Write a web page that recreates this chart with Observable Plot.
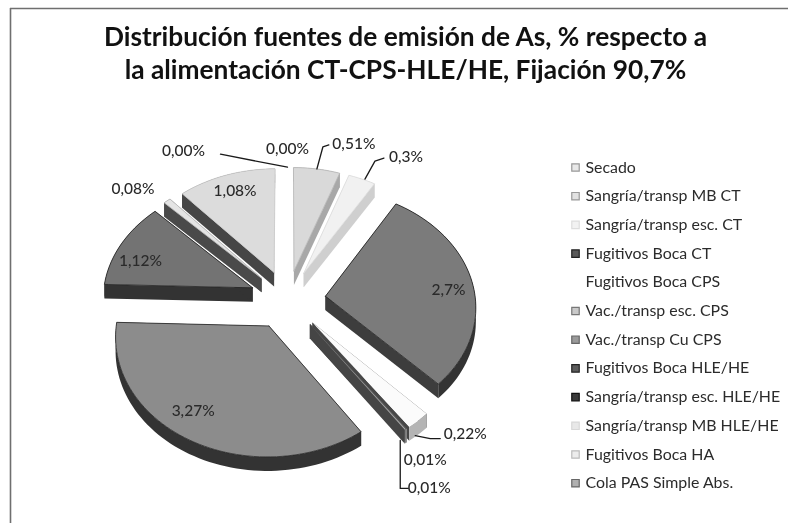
<!DOCTYPE html>
<html>
<head>
<meta charset="utf-8">
<script src="https://cdn.jsdelivr.net/npm/d3@7"></script>
<script src="https://cdn.jsdelivr.net/npm/@observablehq/plot@0.6"></script>
<style>
html,body{margin:0;padding:0;background:#fff}
svg{display:block;filter:blur(0.45px)}
</style>
</head>
<body>
<div id="chart"></div>
<script>
// ---- data (clockwise from 12 o'clock) ----
const categories = ["Secado","Sangría/transp MB CT","Sangría/transp esc. CT","Fugitivos Boca CT","Fugitivos Boca CPS","Vac./transp esc. CPS","Vac./transp Cu CPS","Fugitivos Boca HLE/HE","Sangría/transp esc. HLE/HE","Sangría/transp MB HLE/HE","Fugitivos Boca HA","Cola PAS Simple Abs."];
const values = [0.00,0.51,0.3,2.7,0.22,0.01,0.01,3.27,1.12,0.08,1.08,0.00];
const valueLabels = ["0,00%","0,51%","0,3%","2,7%","0,22%","0,01%","0,01%","3,27%","1,12%","0,08%","1,08%","0,00%"];
const titleLines = ["Distribución fuentes de emisión de As, % respecto a","la alimentación CT-CPS-HLE/HE, Fijación 90,7%"];

// ---- style ----
const topColors  = ["#e6e6e6","#d9d9d9","#f1f1f1","#7b7b7b","#fbfbfb","#5a5a5a","#a8a8a8","#8c8c8c","#737373","#e4e4e4","#dcdcdc","#b5b5b5"];
const cutColors  = ["#bbbbbb","#a8a8a8","#cfcfcf","#3d3d3d","#474747","#454545","#454545","#3a3a3a","#333333","#4a4a4a","#464646","#888888"];
const arcColors  = ["#bbbbbb","#a8a8a8","#cfcfcf","#333333","#b4b4b4","#999999","#999999","#333333","#333333","#4a4a4a","#464646","#888888"];
const edgeColors = ["none","#b5b5b5","#dddddd","#1e1e1e","none","none","none","#262626","#222222","#bbbbbb","#c8c8c8","none"];
const swatchFill = ["#e9e9e9","#e2e2e2","#f2f2f2","#5a5a5a","#ffffff","#c9c9c9","#9a9a9a","#5d5d5d","#3a3a3a","#e8e8e8","#ececec","#b0b0b0"];
const swatchEdge = ["#999999","#999999","#dddddd","#222222","none","#777777","#666666","#222222","#111111","#d8d8d8","#bbbbbb","#666666"];

// ---- label layout: offsets from each slice's outer-arc midpoint ----
const labelDX = [0,37,44,-24,47,19,24,4,19,-34,9,-104];
const labelDY = [-18,-25,-22,7,13,31,59,-29,17,-12,16,-16];
const leaders = {
  1:[[0,0],[6,-22],[12,-24]],
  2:[[3,0],[13,-18],[22,-21]],
  4:[[-3,15],[12,18],[22,18]],
  6:[[-5,11],[-5,59],[3,59]],
  11:[[0,0],[-67,-13]]
};

// ---- geometry derived from the values ----
const W = 788, H = 523, centerX = 287, centerY = 299;
const radiusX = 150, radiusY = 116, perspective = 0.08, explode = 0.255, depth = 14;
const total = d3.sum(values);
const toRad = Math.PI / 180;
let cum = 0;
const slices = values.map((v, i) => {
  const a0 = cum / total * 360; cum += v;
  const a1 = cum / total * 360;
  return {i, a0, a1, mid: (a0 + a1) / 2};
});
// a point of a slice: polar in the pie plane, exploded, then projected
function project(s, angle, r) {
  const wx = explode * Math.sin(s.mid * toRad) + r * Math.sin(angle * toRad);
  const wy = explode * Math.cos(s.mid * toRad) + r * Math.cos(angle * toRad);
  const d = 1 + perspective * wy;
  return {x: radiusX * wx / d, y: -radiusY * wy / d};
}
function arc(s) {
  const n = Math.max(1, Math.ceil((s.a1 - s.a0) / 2));
  return d3.range(n + 1).map(k => project(s, s.a0 + (s.a1 - s.a0) * k / n, 1));
}
const drop = p => ({x: p.x, y: p.y + depth});
const close = pts => [...pts, pts[0]];
const poly = (pts, fill, stroke = "none", strokeWidth = 0.8) =>
  Plot.line(close(pts), {x: "x", y: "y", fill, stroke, strokeWidth, curve: "linear"});

const order = slices.filter(s => s.a1 > s.a0)
  .sort((a, b) => Math.cos(b.mid * toRad) - Math.cos(a.mid * toRad));

const pieMarks = order.flatMap(s => {
  const c = project(s, 0, 0), rim = arc(s), first = rim[0], last = rim[rim.length - 1];
  const edge = edgeColors[s.i];
  return [
    poly([c, first, drop(first), drop(c)], cutColors[s.i]),
    poly([c, last, drop(last), drop(c)], cutColors[s.i]),
    poly([...rim, ...rim.map(drop).reverse()], arcColors[s.i]),
    poly([c, ...rim], topColors[s.i], edge)
  ];
});

const anchors = slices.map(s => project(s, s.mid, 1));
const labels = valueLabels.map((label, i) => ({
  label, x: anchors[i].x + labelDX[i], y: anchors[i].y + labelDY[i]
}));
const leaderMarks = Object.entries(leaders).map(([i, pts]) =>
  Plot.line(pts.map(([dx, dy]) => ({x: anchors[i].x + dx, y: anchors[i].y + dy})),
    {x: "x", y: "y", stroke: "#1a1a1a", strokeWidth: 1.3, curve: "linear"}));

// ---- legend rows ----
const legendX = 575 - centerX, legendTextX = 585 - centerX, legendTop = 167 - centerY, legendStep = 28.7;
const legendRows = categories.map((name, i) => ({name, i, x: legendX, tx: legendTextX, y: legendTop + i * legendStep}));

const sans = "Lato, 'Open Sans', sans-serif";
const chart = Plot.plot({
  width: W, height: H,
  margin: 0,
  x: {domain: [-centerX, W - centerX], range: [0, W], axis: null},
  y: {domain: [-centerY, H - centerY], range: [0, H], axis: null},
  style: {background: "#fff", fontFamily: sans},
  marks: [
    Plot.ruleX([10 - centerX], {y1: 8 - centerY, y2: H - centerY, stroke: "#6f6f6f", strokeWidth: 1.6}),
    Plot.ruleY([8 - centerY], {x1: 10 - centerX, x2: W - centerX, stroke: "#6f6f6f", strokeWidth: 1.6}),
    ...pieMarks,
    ...leaderMarks,
    Plot.text(labels, {x: "x", y: "y", text: "label", fontSize: 15.5, fontWeight: 500, fill: "#2a2a2a", lineAnchor: "middle"}),
    Plot.dot(legendRows, {x: "x", y: "y", symbol: "square", r: 4.2, fill: d => swatchFill[d.i], stroke: d => swatchEdge[d.i], strokeWidth: 1.2}),
    Plot.text(legendRows, {x: "tx", y: "y", text: "name", textAnchor: "start", fontSize: 15.9, fill: "#2b2b2b", lineAnchor: "middle"}),
    Plot.text(titleLines, {x: 405 - centerX, y: (d, i) => 37 - centerY + i * 33, text: d => d, fontSize: 26.3, fontWeight: 700, fill: "#111", lineAnchor: "middle"})
  ]
});
document.getElementById("chart").append(chart);
</script>
</body>
</html>
